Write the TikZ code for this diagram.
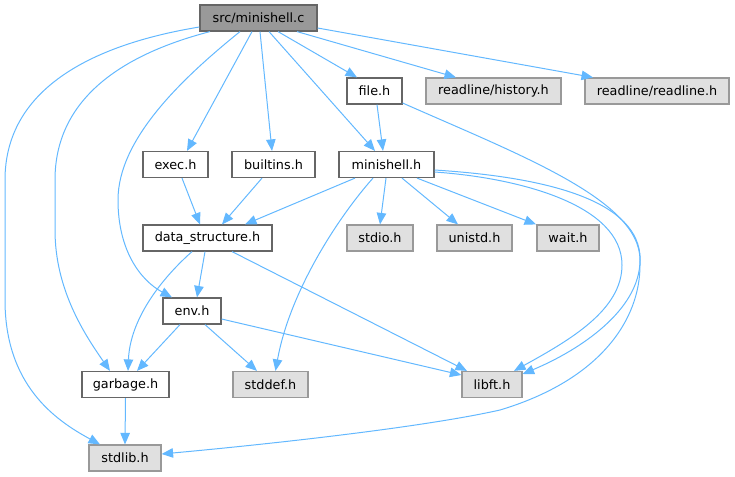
\documentclass[tikz,border=0pt]{standalone}
\usepackage{fontspec}
\setmainfont{DejaVu Sans}
\usetikzlibrary{arrows.meta}
\definecolor{edgeblue}{HTML}{63B8FF}
\definecolor{rootfill}{HTML}{999999}
\definecolor{darkline}{HTML}{666666}
\definecolor{sysfill}{HTML}{E0E0E0}
\definecolor{sysline}{HTML}{999999}
\tikzset{
  basebox/.style={line width=1.2pt, minimum height=26pt, inner sep=0pt, text=black,
    font=\fontsize{12.8}{15}\selectfont},
  rootbox/.style={basebox, draw=darkline, fill=rootfill},
  hdrbox/.style={basebox, draw=darkline, fill=white},
  sysbox/.style={basebox, draw=sysline, fill=sysfill},
  dep/.style={draw=edgeblue, line width=1pt, -{Triangle[length=11.5pt,width=9.5pt]}}
}
\begin{document}
\begin{tikzpicture}[x=1pt,y=-1pt]
\useasboundingbox (0,0) rectangle (735,476);
% nodes
\node[rootbox, minimum width=117pt] (mainc) at (258.5,18) {src/minishell.c};
\node[hdrbox, minimum width=55pt] (fileh) at (374.5,91) {file.h};
\node[sysbox, minimum width=135pt] (hist) at (493.5,91) {readline/history.h};
\node[sysbox, minimum width=144pt] (rl) at (657,91) {readline/readline.h};
\node[hdrbox, minimum width=65pt] (exech) at (175.5,164.5) {exec.h};
\node[hdrbox, minimum width=83pt] (builth) at (273.5,164.5) {builtins.h};
\node[hdrbox, minimum width=95pt] (msh) at (386.5,164.5) {minishell.h};
\node[hdrbox, minimum width=129pt] (ds) at (207.5,238) {data\_structure.h};
\node[sysbox, minimum width=66pt] (stdio) at (380,238) {stdio.h};
\node[sysbox, minimum width=75pt] (unistd) at (474.5,238) {unistd.h};
\node[sysbox, minimum width=62pt] (waith) at (568,238) {wait.h};
\node[hdrbox, minimum width=58pt] (envh) at (192,311) {env.h};
\node[hdrbox, minimum width=87pt] (garb) at (125.5,384.5) {garbage.h};
\node[sysbox, minimum width=75pt] (stddef) at (270.5,384.5) {stddef.h};
\node[sysbox, minimum width=60pt] (libft) at (492,384.5) {libft.h};
\node[sysbox, minimum width=72pt] (stdlib) at (125,458) {stdlib.h};
% edges from src/minishell.c
\draw[dep] ([yshift=-9pt]mainc.west) .. controls (90,45) and (5,90) .. (5,180) -- (5,300)
  .. controls (5,385) and (55,420) .. ([xshift=-25pt]stdlib.north);
\draw[dep] ([xshift=-48.5pt]mainc.south) .. controls (120,55) and (55,100) .. (55,180) -- (55,230)
  .. controls (55,290) and (85,335) .. ([xshift=-15.5pt]garb.north);
\draw[dep] ([xshift=-18.5pt]mainc.south) .. controls (180,80) and (118,140) .. (118,200)
  .. controls (118,250) and (140,280) .. ([xshift=-20pt]envh.north);
\draw[dep] ([xshift=-6.5pt]mainc.south) -- ([xshift=11.5pt]exech.north);
\draw[dep] ([xshift=1.5pt]mainc.south) -- ([xshift=-1.5pt]builth.north);
\draw[dep] ([xshift=10.5pt]mainc.south) -- ([xshift=-11.5pt]msh.north);
\draw[dep] ([xshift=19.5pt]mainc.south) -- ([xshift=-17.5pt]fileh.north);
\draw[dep] ([xshift=38.5pt]mainc.south) -- ([xshift=-37.5pt]hist.north);
\draw[dep] ([yshift=-10pt]mainc.east) -- ([xshift=-64pt]rl.north);
% file.h
\draw[dep] ([xshift=2.5pt]fileh.south) -- ([xshift=-3.5pt]msh.north);
\draw[dep] ([yshift=-12pt]fileh.east) .. controls (520,155) and (640,200) .. (640,260)
  .. controls (640,310) and (580,350) .. ([yshift=10.5pt]libft.east);
% minishell.h
\draw[dep] ([yshift=-7.5pt]msh.east) .. controls (520,178) and (622,205) .. (622,265)
  .. controls (622,310) and (570,340) .. ([xshift=22pt]libft.north);
\draw[dep] ([yshift=-5.5pt]msh.east) .. controls (560,178) and (645,205) .. (640,265)
  .. controls (640,320) and (600,380) .. (500,410)
  .. controls (420,428) and (260,445) .. ([yshift=4pt]stdlib.east);
\draw[dep] ([xshift=-13.5pt]msh.south) .. controls (340,215) and (290,290) .. ([xshift=5pt]stddef.north);
\draw[dep] ([xshift=-31.5pt]msh.south) -- ([xshift=37.5pt]ds.north);
\draw[dep] ([xshift=-0.5pt]msh.south) -- (stdio.north);
\draw[dep] ([xshift=15.5pt]msh.south) -- ([xshift=-16.5pt]unistd.north);
\draw[dep] ([xshift=30.5pt]msh.south) -- ([xshift=-32pt]waith.north);
% exec.h, builtins.h
\draw[dep] ([xshift=6.5pt]exech.south) -- ([xshift=-7.5pt]ds.north);
\draw[dep] ([xshift=-11.5pt]builth.south) -- ([xshift=14.5pt]ds.north);
% data_structure.h
\draw[dep] ([xshift=-2.5pt]ds.south) -- ([xshift=5pt]envh.north);
\draw[dep] ([xshift=-15.5pt]ds.south) .. controls (160,280) and (130,320) .. ([xshift=2.5pt]garb.north);
\draw[dep] ([xshift=24.5pt]ds.south) -- ([xshift=-25pt]libft.north);
% env.h
\draw[dep] ([xshift=-12pt]envh.south) -- ([xshift=11.5pt]garb.north);
\draw[dep] ([xshift=13pt]envh.south) -- ([xshift=-13.5pt]stddef.north);
\draw[dep] ([yshift=-8pt]envh.east) -- ([yshift=9.5pt]libft.west);
% garbage.h
\draw[dep] (garb.south) -- (stdlib.north);
\end{tikzpicture}
\end{document}
